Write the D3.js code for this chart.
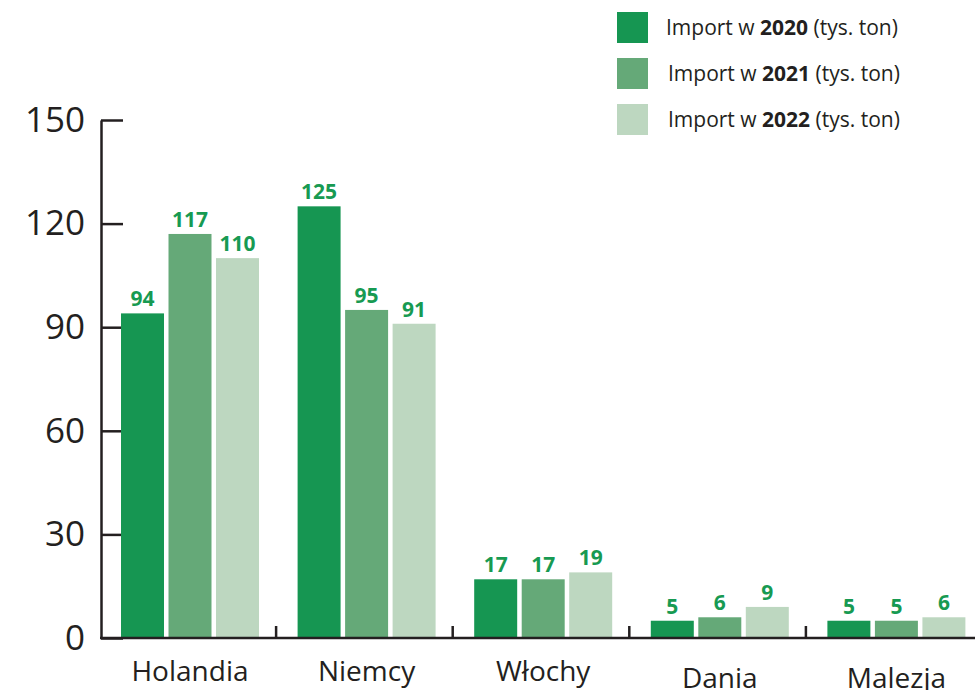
<!DOCTYPE html>
<html>
<head>
<meta charset="utf-8">
<title>Import (tys. ton)</title>
<script src="https://cdn.jsdelivr.net/npm/d3@7"></script>
<style>
body{
  margin: 0;
  background: #fff;
}
svg{
  font-family: "Open Sans", sans-serif;
  display: block;
}
</style>
</head>
<body>
<script>
  // dane
  var categories = ["Holandia", "Niemcy", "Włochy", "Dania", "Malezja"];
  var years = ["2020", "2021", "2022"];
  var values2020 = [94, 125, 17, 5, 5];
  var values2021 = [117, 95, 17, 6, 5];
  var values2022 = [110, 91, 19, 9, 6];
  var yTicks = [0, 30, 60, 90, 120, 150];

  var series = [values2020, values2021, values2022];
  var colors = ["#169652", "#65a978", "#bdd7c0"];

  var width = 975, height = 690;

  var svg = d3.select("body").append("svg")
    .attr("width", width).attr("height", height);

  // skale
  var x = d3.scaleBand().domain(categories).range([100, 983]);
  var xInner = d3.scaleBand().domain(years).range([21, 159]).paddingInner(0.095);
  var y = d3.scaleLinear().domain([0, 150]).range([638, 120]);

  // oś Y
  var yAxis = svg.append("g")
    .attr("transform", "translate(101,0)")
    .call(d3.axisLeft(y).tickValues(yTicks).tickSizeInner(-22).tickSizeOuter(0).tickPadding(16));
  yAxis.select(".domain").attr("stroke", "#231f20").attr("stroke-width", 2.5);
  yAxis.selectAll(".tick line").attr("stroke", "#231f20").attr("stroke-width", 2.5);
  yAxis.selectAll(".tick text")
    .attr("fill", "#231f20")
    .attr("font-size", "35px")
    .attr("font-family", "Open Sans, sans-serif");

  // słupki
  var groups = svg.selectAll(".group")
    .data(categories)
    .enter()
    .append("g")
    .attr("class", "group")
    .attr("transform", function(d) { return "translate(" + x(d) + ",0)"; });

  years.forEach(function(yr, s) {
    groups.append("rect")
      .attr("x", xInner(yr))
      .attr("width", xInner.bandwidth())
      .attr("y", function(d, i) { return y(series[s][i]); })
      .attr("height", function(d, i) { return y(0) - y(series[s][i]); })
      .attr("fill", colors[s]);

    groups.append("text")
      .attr("x", xInner(yr) + xInner.bandwidth() / 2)
      .attr("y", function(d, i) { return y(series[s][i]) - 7; })
      .attr("text-anchor", "middle")
      .attr("font-size", "21px")
      .attr("font-weight", "bold")
      .attr("fill", "#179a52")
      .text(function(d, i) { return series[s][i]; });
  });

  // oś X
  svg.append("line")
    .attr("x1", 100).attr("x2", width)
    .attr("y1", y(0)).attr("y2", y(0))
    .attr("stroke", "#231f20").attr("stroke-width", 2.5);

  svg.selectAll(".sep")
    .data(categories.slice(1))
    .enter()
    .append("line")
    .attr("x1", function(d) { return x(d) - 0.5; })
    .attr("x2", function(d) { return x(d) - 0.5; })
    .attr("y1", y(0)).attr("y2", y(0) - 12)
    .attr("stroke", "#231f20").attr("stroke-width", 2.5);

  svg.selectAll(".cat")
    .data(categories)
    .enter()
    .append("text")
    .attr("x", function(d) { return x(d) + (xInner.range()[0] + xInner.range()[1]) / 2; })
    .attr("y", function(d, i) { return i < 3 ? 681 : 688; })
    .attr("text-anchor", "middle")
    .attr("font-size", "28px")
    .attr("fill", "#231f20")
    .text(function(d) { return d; });

  // legenda
  var legend = svg.selectAll(".legend")
    .data(years)
    .enter()
    .append("g")
    .attr("class", "legend")
    .attr("transform", function(d, i) { return "translate(617," + (12 + i * 46) + ")"; });

  legend.append("rect")
    .attr("width", 31).attr("height", 31)
    .attr("fill", function(d, i) { return colors[i]; });

  var lt = legend.append("text")
    .attr("x", function(d, i) { return i == 0 ? 49 : 51; })
    .attr("y", 23)
    .attr("font-size", "21px")
    .attr("fill", "#231f20");
  lt.append("tspan").text("Import w ");
  lt.append("tspan").attr("font-weight", "bold").text(function(d) { return d; });
  lt.append("tspan").text(" (tys. ton)");
</script>
</body>
</html>
